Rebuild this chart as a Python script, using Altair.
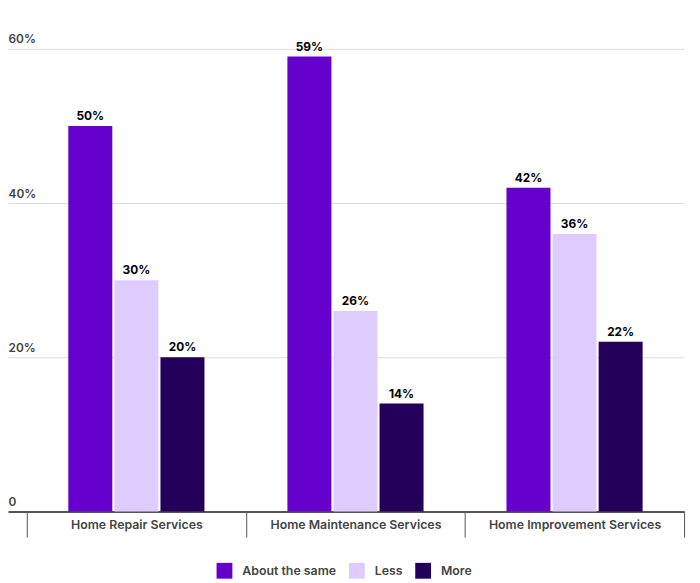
import altair as alt
import pandas as pd

categories = ["Home Repair Services", "Home Maintenance Services", "Home Improvement Services"]
series = ["About the same", "Less", "More"]
about_vals = [50, 59, 42]
less_vals = [30, 26, 36]
more_vals = [20, 14, 22]
colors = ["#6600CC", "#DFCCFF", "#23005A"]
y_ticks = [0, 20, 40, 60]

rows = []
for s, vals in zip(series, [about_vals, less_vals, more_vals]):
    for c, v in zip(categories, vals):
        rows.append({"category": c, "series": s, "value": v, "label": f"{v}%"})
df = pd.DataFrame(rows)

FONT = "Inter"

base = alt.Chart(df).encode(
    x=alt.X(
        "category:N",
        sort=categories,
        title=None,
        scale=alt.Scale(paddingInner=0, paddingOuter=0.043, align=1),
        axis=alt.Axis(
            domainColor="#555555",
            domainWidth=2,
            tickColor="#555555",
            tickWidth=1,
            tickSize=26,
            tickBand="extent",
            labelPadding=-19,
            labelFont=FONT,
            labelFontWeight=600,
            labelFontSize=12.5,
            labelColor="#444444",
            labelAngle=0,
            grid=False,
        ),
    ),
    xOffset=alt.XOffset(
        "series:N", sort=series, scale=alt.Scale(paddingInner=0.045, paddingOuter=0.9)
    ),
    y=alt.Y(
        "value:Q",
        title=None,
        scale=alt.Scale(domain=[0, 60], nice=False),
        axis=alt.Axis(
            values=y_ticks,
            grid=True,
            gridColor="#dddddd",
            gridWidth=1,
            domain=False,
            ticks=False,
            tickSize=0,
            labelAlign="left",
            labelBaseline="bottom",
            labelPadding=0,
            labelOffset=-3,
            labelFont=FONT,
            labelFontWeight=600,
            labelFontSize=12,
            labelColor="#444444",
            labelExpr="datum.value == 0 ? '0' : datum.value + '%'",
        ),
    ),
)

bars = base.mark_bar().encode(
    color=alt.Color(
        "series:N",
        sort=series,
        scale=alt.Scale(domain=series, range=colors),
        legend=alt.Legend(
            title=None,
            orient="none",
            legendX=211,
            legendY=520,
            direction="horizontal",
            symbolType="square",
            symbolSize=256,
            symbolStrokeWidth=0,
            symbolOpacity=1,
            labelFont=FONT,
            labelFontSize=12.5,
            labelFontWeight=600,
            labelColor="#444444",
            labelOffset=10,
            columnPadding=12,
        ),
    )
)

text = base.mark_text(
    dy=-3, baseline="bottom", fontWeight="bold", fontSize=12, color="#000000", font=FONT
).encode(text="label:N")

chart = (
    alt.layer(bars, text)
    .properties(
        width=684,
        height=468,
        autosize=alt.AutoSizeParams(type="none"),
        padding={"left": 0, "top": 38, "right": 8, "bottom": 68},
    )
    .configure_view(stroke=None)
)

chart.save("out.html", embed_options={"renderer": "svg", "actions": False})
